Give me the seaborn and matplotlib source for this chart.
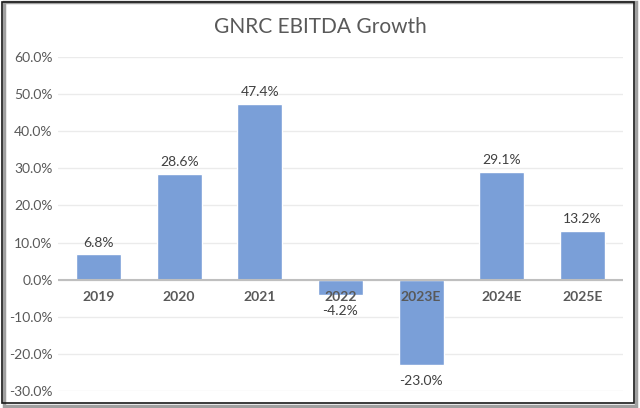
import matplotlib
matplotlib.use('Agg')
import matplotlib.pyplot as plt
import seaborn as sns
import pandas as pd
from matplotlib.patches import Rectangle

# data
years = ['2019', '2020', '2021', '2022', '2023E', '2024E', '2025E']
growth = [6.8, 28.6, 47.4, -4.2, -23.0, 29.1, 13.2]

df = pd.DataFrame({'Year': years, 'Growth': growth})

sns.set_style('white')
plt.rcParams['font.family'] = ['Lato', 'DejaVu Sans']

fig = plt.figure(figsize=(6.4, 4.08), dpi=100)
ax = fig.add_axes([0.091, 0.042, 0.882, 0.818])

sns.barplot(data=df, x='Year', y='Growth', color='#7A9FD8', width=0.56,
            saturation=1, ax=ax, zorder=2)

ax.set_ylim(-30, 60)
ax.set_yticks(range(-30, 61, 10))
ax.set_yticklabels([f'{v:.1f}%' for v in range(-30, 61, 10)], color='#595959', fontsize=10)
ax.yaxis.grid(True, color='#ebebeb', linewidth=1, zorder=0)
ax.set_axisbelow(True)
ax.tick_params(axis='y', length=0, pad=4)
ax.set_xlim(-0.5, len(years) - 0.5)
for s in ax.spines.values():
    s.set_visible(False)
ax.axhline(0, color='#bfbfbf', linewidth=1.5, zorder=3)

# category labels just under the zero line
ax.set_xticks([])
ax.set_xlabel('')
ax.set_ylabel('')
for i, y in enumerate(years):
    ax.annotate(y, (i, 0), xytext=(0, -8), textcoords='offset points',
                ha='center', va='top', fontsize=10, fontweight='bold',
                color='#595959', zorder=4)

# data labels
for i, v in enumerate(growth):
    if v >= 0:
        ax.annotate(f'{v:.1f}%', (i, v), xytext=(0, 4), textcoords='offset points',
                    ha='center', va='bottom', fontsize=10, color='#404040')
    else:
        ax.annotate(f'{v:.1f}%', (i, v), xytext=(0, -7), textcoords='offset points',
                    ha='center', va='top', fontsize=10, color='#404040')

fig.text(0.5, 0.935, 'GNRC EBITDA Growth', ha='center', va='center',
         fontsize=15, color='#595959')

# frame with a small shadow, like the pasted chart
fig.patches.append(Rectangle((0.006, 0.006), 0.988, 0.988, transform=fig.transFigure,
                             fill=False, edgecolor='#a0a0a0', linewidth=2.5, zorder=0))
fig.patches.append(Rectangle((0.003, 0.012), 0.988, 0.984, transform=fig.transFigure,
                             fill=False, edgecolor='#1a1a1a', linewidth=1.2, zorder=1))

fig.savefig('out.png', dpi=100)
